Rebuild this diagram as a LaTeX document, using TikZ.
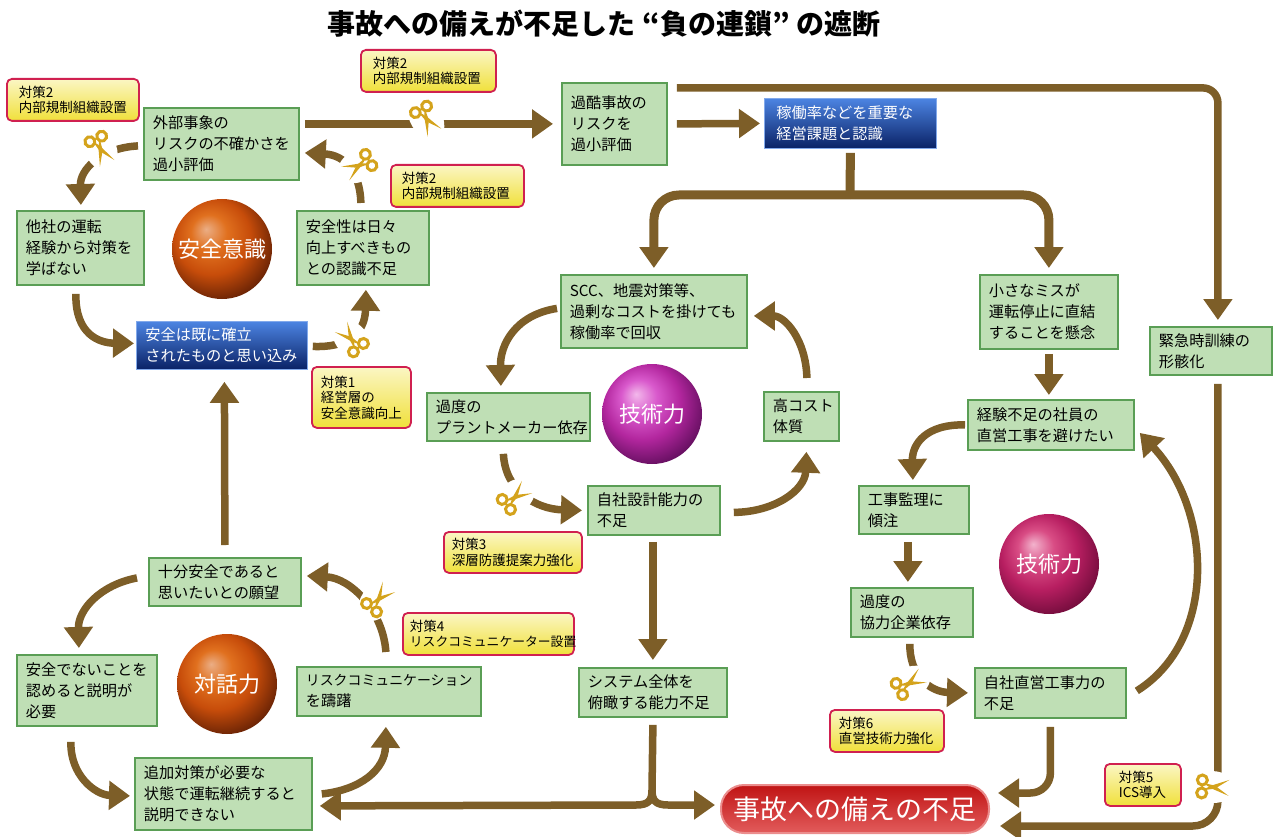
\documentclass[tikz,border=0pt]{standalone}
\usepackage{fontspec}
\setmainfont{Noto Sans CJK JP}
\usetikzlibrary{arrows.meta,shadings}
\definecolor{brn}{HTML}{7D5E28}
\definecolor{grf}{HTML}{BFDFB5}
\definecolor{grd}{HTML}{5A9E55}
\definecolor{gold}{HTML}{D4A31C}
\definecolor{crim}{HTML}{D02050}
\definecolor{yeltop}{HTML}{FBF6C4}
\definecolor{yelbot}{HTML}{F0E03A}
\definecolor{blutop}{HTML}{4C84E2}
\definecolor{blumid}{HTML}{2A56B0}
\definecolor{blubot}{HTML}{0A2266}
\definecolor{redtop}{HTML}{C01414}
\definecolor{redbot}{HTML}{E25C5C}
\pgfdeclareradialshading{orball}{\pgfpoint{-8bp}{10bp}}{rgb(0bp)=(0.92,0.68,0.52);rgb(9bp)=(0.88,0.44,0.12);rgb(19bp)=(0.78,0.30,0.04);rgb(30bp)=(0.42,0.14,0.02);rgb(36bp)=(0.24,0.10,0.04);rgb(50bp)=(0.24,0.10,0.04)}
\pgfdeclareradialshading{puball}{\pgfpoint{-8bp}{10bp}}{rgb(0bp)=(0.95,0.72,0.92);rgb(9bp)=(0.85,0.35,0.80);rgb(19bp)=(0.70,0.15,0.62);rgb(30bp)=(0.40,0.06,0.38);rgb(36bp)=(0.30,0.10,0.50);rgb(50bp)=(0.30,0.10,0.50)}
\pgfdeclareradialshading{crball}{\pgfpoint{-8bp}{10bp}}{rgb(0bp)=(0.95,0.70,0.80);rgb(9bp)=(0.85,0.30,0.52);rgb(19bp)=(0.72,0.12,0.38);rgb(30bp)=(0.46,0.05,0.24);rgb(36bp)=(0.36,0.05,0.20);rgb(50bp)=(0.36,0.05,0.20)}
\tikzset{
  x=1pt,y=-1pt,
  flow/.style={line width=7.5pt,draw=brn,line join=round},
  arw/.style={flow,-{Triangle[length=21pt,width=28pt]}},
  bold arw/.style={arw,line width=9pt},
  gbox/.style={draw=grd,fill=grf,line width=1.8pt,inner sep=0pt,anchor=north west,align=left,
     font=\fontsize{15.2}{21}\selectfont,text=black},
  bbox/.style={gbox,draw=blutop!70!white,line width=0.8pt,top color=blutop,middle color=blumid,bottom color=blubot,text=white},
  ybox/.style={draw=crim,line width=1.8pt,top color=yeltop,bottom color=yelbot,rounded corners=5pt,inner sep=0pt,anchor=north west,align=left,
     font=\fontsize{13.5}{15.5}\selectfont,text=black},
  ballnode/.style={circle,minimum size=100pt,inner sep=0pt,text=white,font=\fontsize{22}{24}\selectfont},
}
\newcommand{\gbx}[7][gbox]{\node[#1,minimum width={(#5-#3)*1pt},minimum height={(#6-#4)*1pt},text width={(#5-#3-18)*1pt}] (#2) at (#3,#4) {#7};}
% name, x1, y1, x2, y2, side margin, text
\newcommand{\ybx}[7]{\node[ybox,minimum width={(#4-#2)*1pt},minimum height={(#5-#3)*1pt},text width={(#4-#2-2*#6)*1pt}] (#1) at (#2,#3) {#7};}
\newcommand{\scis}[3]{\begin{scope}[shift={(#1,#2)},rotate=#3]
  \fill[white] (0pt,0pt) ellipse [x radius=24pt,y radius=16pt];
  \draw[gold,line width=3pt] (-10pt,6.5pt) circle [radius=5pt] (-10pt,-6.5pt) circle [radius=5pt];
  \fill[gold] (-8pt,3.5pt)--(-5pt,1pt)--(1pt,-2pt)--(17pt,-8pt)--(3pt,1.5pt)--cycle;
  \fill[gold] (-8pt,-3.5pt)--(-5pt,-1pt)--(1pt,2pt)--(17pt,8pt)--(3pt,-1.5pt)--cycle;
\end{scope}}
\begin{document}
\begin{tikzpicture}
\useasboundingbox (0,0) rectangle (1274,837);
\node[font=\fontsize{28}{30}\selectfont\bfseries] (title) at (604,24) {事故への備えが不足した\hspace{7pt}“負の連鎖”\hspace{7pt}の遮断};

\gbx{ext}{143}{107}{298}{179}{外部事象の\\リスクの不確かさを\\過小評価}
\gbx{oth}{16}{210}{143}{284}{他社の運転\\経験から対策を\\学ばない}
\gbx{saf}{296}{210}{428}{284}{安全性は日々\\向上すべきもの\\との認識不足}
\gbx[bbox]{blua}{136}{321}{307}{369}{安全は既に確立\\されたものと思い込み}
\gbx{har}{561}{82}{666}{164}{過酷事故の\\リスクを\\過小評価}
\gbx[bbox]{blub}{764}{98}{936}{148}{\hspace{3pt}稼働率などを重要な\\\hspace{3pt}経営課題と認識}
\gbx{scc}{560}{274}{746}{347}{SCC、地震対策等、\\過剰なコストを掛けても\\稼働率で回収}
\gbx{smal}{979}{274}{1117}{348}{小さなミスが\\運転停止に直結\\することを懸念}
\gbx{kado}{426}{392}{589}{440}{過度の\\プラントメーカー依存}
\gbx{cost}{763}{391}{838}{440}{高コスト\\体質}
\gbx{keik}{967}{399}{1133}{449}{経験不足の社員の\\直営工事を避けたい}
\gbx{emer}{1149}{326}{1271}{374}{緊急時訓練の\\形骸化}
\gbx{jsha}{587}{485}{719}{534}{自社設計能力の\\不足}
\gbx{kouj}{858}{485}{968}{533}{工事監理に\\傾注}
\gbx{kyor}{850}{587}{972}{636}{過度の\\協力企業依存}
\gbx{jcho}{974}{667}{1125}{717}{自社直営工事力の\\不足}
\gbx{juub}{148}{557}{300}{605}{十分安全であると\\思いたいとの願望}
\gbx{anze}{16}{654}{156}{725}{安全でないことを\\認めると説明が\\必要}
\gbx{risk}{296}{666}{480}{715}{{\fontsize{13.9}{21}\selectfont リスクコミュニケーション}\\を躊躇}
\gbx{syst}{578}{667}{726}{716}{システム全体を\\俯瞰する能力不足}
\gbx{tsui}{134}{757}{311}{829}{追加対策が必要な\\状態で運転継続すると\\説明できない}

\node[rounded corners=23pt,draw=redbot!70!white,line width=2pt,top color=redtop,bottom color=redbot,
  minimum width=268pt,minimum height=48pt,text=white,font=\fontsize{27}{30}\selectfont,inner sep=0pt] (pill) at (855,809) {事故への備えの不足};

\node[ballnode,shading=orball] (bala) at (222,249) {安全意識};
\node[ballnode,shading=puball] (balb) at (652,414) {技術力};
\node[ballnode,shading=crball] (balc) at (1049,564) {技術力};
\node[ballnode,shading=orball] (bald) at (227,684) {対話力};

% connectors
\draw[arw] ([xshift=5pt,yshift=20pt]ext.east) -- ([xshift=-8pt]har.west);
\draw[arw] ([xshift=9pt]har.east) -- ([xshift=-4pt]blub.west);
\draw[arw,rounded corners=15pt] ([xshift=9pt,yshift=36pt]har.east) -| ([xshift=7pt,yshift=6pt]emer.north);
\coordinate (ja) at (850,195);
\draw[flow,line width=9pt] ([yshift=-4pt]blub.south) -- (ja);
\draw[bold arw,rounded corners=25pt] (ja) -| ([yshift=6pt]scc.north);
\draw[bold arw,rounded corners=25pt] (ja) -| ([yshift=6pt]smal.north);
\draw[arw] ([xshift=-3pt,yshift=3pt]scc.west) .. controls (515,315) and (500,345) .. ([xshift=-7.5pt,yshift=6pt]kado.north);
\draw[arw] ([xshift=-5pt,yshift=-12pt]kado.south) .. controls (505,490) and (535,509) .. ([xshift=-5pt]jsha.west);
\draw[arw] ([xshift=13pt,yshift=-2pt]jsha.east) .. controls (775,512) and (805,490) .. ([xshift=5pt,yshift=-10pt]cost.south);
\draw[arw] ([xshift=5.5pt,yshift=13pt]cost.north) .. controls (806,340) and (785,316) .. ([xshift=6pt,yshift=-4.5pt]scc.east);
\draw[arw] ([xshift=-1pt,yshift=-6pt]jsha.south) -- ([yshift=7pt]syst.north);
\coordinate (jb) at (652,790);
\draw[flow] ([yshift=-7pt]syst.south) -- (jb);
\draw[arw] (jb) .. controls (652,800) and (655,805) .. (668,805) -- ([xshift=-5pt,yshift=4pt]pill.west);
\draw[arw] (jb) .. controls (652,800) and (649,805) .. (636,805) -- ([xshift=7pt,yshift=-12pt]tsui.east);
\draw[arw,rounded corners=20pt] ([yshift=-8pt]jcho.south) |- ([xshift=8pt,yshift=16pt]pill.east);
\draw[arw,rounded corners=25pt] ([xshift=7pt,yshift=-8pt]emer.south) |- ([xshift=10pt,yshift=-17pt]pill.east);
\draw[arw] ([xshift=-2pt,yshift=-6pt]kyor.south) .. controls (909,675) and (930,692) .. ([xshift=-6pt]jcho.west);
\draw[arw] ([xshift=-6pt,yshift=-7pt]kouj.south) -- ([xshift=-4pt,yshift=5pt]kyor.north);
\draw[arw] ([yshift=-4pt]smal.south) -- ([xshift=-2pt,yshift=4pt]keik.north);
\draw[arw] ([xshift=-2pt]keik.west) .. controls (925,424) and (912,445) .. ([xshift=-1pt,yshift=5pt]kouj.north);
\draw[arw] ([xshift=10pt,yshift=2pt]jcho.east) .. controls (1218,640) and (1212,510) .. ([xshift=5pt,yshift=-8pt]keik.east);
\draw[arw] ([yshift=12pt]juub.north) -- ([xshift=2.5pt,yshift=-12pt]blua.south);
\draw[arw] ([xshift=-3pt,yshift=14pt]risk.north) .. controls (383,610) and (350,578) .. ([xshift=5pt,yshift=6pt]juub.east);
\draw[arw] ([xshift=-11pt,yshift=4pt]juub.west) .. controls (100,585) and (78,610) .. ([xshift=-8pt,yshift=6pt]anze.north);
\draw[arw] ([xshift=-16pt,yshift=-15pt]anze.south) .. controls (70,775) and (95,795) .. ([xshift=-4pt,yshift=-2pt]tsui.west);
\draw[arw] ([xshift=9pt]tsui.east) .. controls (360,790) and (385,770) .. ([xshift=-3pt,yshift=-10pt]risk.south);
\draw[arw] ([xshift=-5pt,yshift=-2pt]ext.west) .. controls (100,148) and (80,170) .. ([xshift=0.5pt,yshift=5pt]oth.north);
\draw[arw] ([xshift=-2pt,yshift=7pt]saf.north) .. controls (360,172) and (345,155) .. ([xshift=5pt,yshift=-9pt]ext.east);
\draw[arw] ([xshift=5pt,yshift=-1pt]blua.east) .. controls (345,348) and (365,335) .. ([xshift=3pt,yshift=-4pt]saf.south);
\draw[arw] ([xshift=-4.5pt,yshift=-8pt]oth.south) .. controls (75,335) and (100,343) .. ([xshift=-2pt,yshift=2pt]blua.west);

% scissors
\scis{426}{118}{-60}
\scis{100}{148}{-65}
\scis{360}{165}{210}
\scis{352}{340}{130}
\scis{514}{498}{40}
\scis{378}{600}{50}
\scis{908}{684}{30}
\scis{1212}{787}{-3}

% countermeasure labels
\ybx{ya}{6}{78}{138}{120}{12}{対策2\\内部規制組織設置}
\ybx{yb}{360}{49}{495}{91}{12}{対策2\\内部規制組織設置}
\ybx{yc}{390}{164}{523}{206}{11}{対策2\\内部規制組織設置}
\ybx{yd}{311}{366}{410}{427}{9}{対策1\\経営層の\\安全意識向上}
\ybx{ye}{443}{531}{581}{572}{8}{対策3\\深層防護提案力強化}
\ybx{yf}{402}{612}{573}{654}{7}{対策4\\{\fontsize{12.8}{15.5}\selectfont リスクコミュニケーター設置}}
\ybx{yg}{829}{709}{943}{751}{9}{対策6\\直営技術力強化}
\ybx{yh}{1104}{763}{1180}{805}{14}{対策5\\ICS導入}
\end{tikzpicture}
\end{document}
